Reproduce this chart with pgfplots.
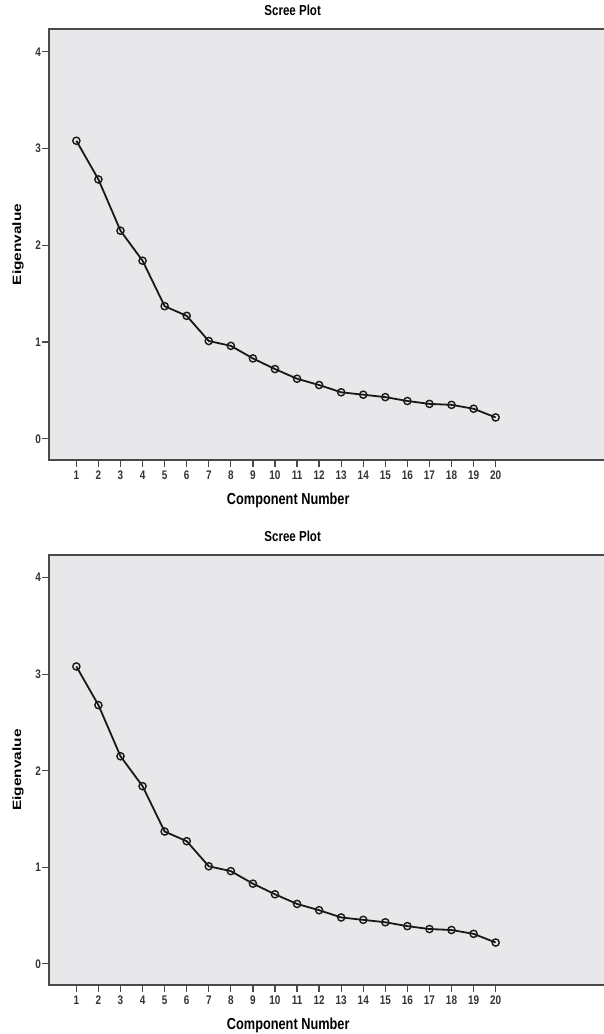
\documentclass[border=0pt]{standalone}
\usepackage{pgfplots}
\pgfplotsset{compat=1.18}
\usepackage{fontspec}
\setmainfont{Liberation Sans}
% the chart is squeezed sideways, so its text is narrow
\newfontfamily\sqfont[FakeStretch=0.8]{Liberation Sans}

\definecolor{bgc}{HTML}{E8E8EA}
\definecolor{framec}{HTML}{4A4A4A}

\pgfplotstableread{
comp eig
1  3.08
2  2.68
3  2.15
4  1.84
5  1.37
6  1.27
7  1.01
8  0.96
9  0.83
10 0.72
11 0.62
12 0.555
13 0.48
14 0.455
15 0.43
16 0.39
17 0.36
18 0.35
19 0.31
20 0.22
}\scree

\pgfplotsset{
  screestyle/.style={
    scale only axis,
    width=557bp, height=431bp,
    anchor=north west,
    xmin=-0.24, xmax=25, ymin=-0.22, ymax=4.235,
    xtick={1,...,20}, ytick={0,1,2,3,4},
    axis background/.style={fill=bgc},
    axis line style={framec, line width=1.6bp},
    tick style={framec, line width=1.3bp},
    major tick length=7bp,
    tick align=outside,
    xtick pos=bottom, ytick pos=left,
    /pgf/number format/assume math mode=true,
    ticklabel style={font=\sqfont\bfseries\fontsize{12.5}{14}\selectfont, text=black!80},
    xticklabel style={anchor=north, inner sep=0pt, yshift=-3.5bp},
    yticklabel style={anchor=east, inner sep=0pt, xshift=-1bp},
    xlabel={Component Number}, ylabel={\scalebox{1}[0.78]{Eigenvalue}},
    title={Scree Plot},
    every axis x label/.style={at={(axis cs:10.6,-0.22)}, anchor=center, yshift=-40bp,
      font=\sqfont\bfseries\fontsize{16}{18}\selectfont},
    every axis y label/.style={at={(rel axis cs:0,0.5)}, rotate=90, anchor=center, yshift=31bp,
      font=\bfseries\fontsize{15.5}{17}\selectfont},
    every axis title/.style={at={(axis cs:10.8,4.235)}, anchor=center, yshift=19bp,
      font=\sqfont\bfseries\fontsize{14.5}{17}\selectfont},
  }
}

\begin{document}
\begin{tikzpicture}
\begin{axis}[screestyle, at={(49bp,-29bp)}]
\addplot[black!90, line width=1.8bp, mark=o, mark size=3.6bp,
  mark options={line width=1.4bp}] table[x=comp, y=eig] {\scree};
\end{axis}
\begin{axis}[screestyle, at={(49bp,-555bp)}, height=430bp]
\addplot[black!90, line width=1.8bp, mark=o, mark size=3.6bp,
  mark options={line width=1.4bp}] table[x=comp, y=eig] {\scree};
\end{axis}
\pgfresetboundingbox
\path[use as bounding box] (0,0) rectangle (604bp,-1034bp);
\end{tikzpicture}
\end{document}
